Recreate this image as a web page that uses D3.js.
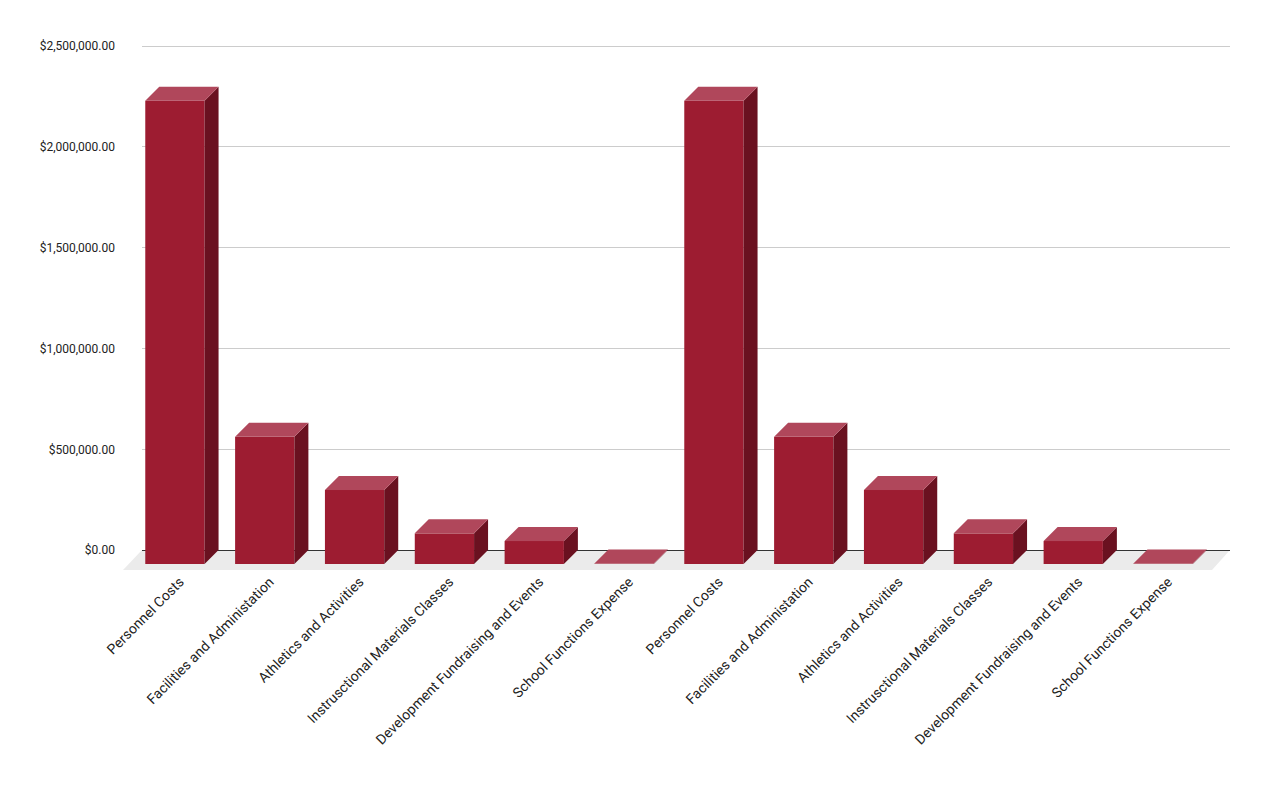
<!DOCTYPE html>
<html>
<head>
<meta charset="utf-8">
<script src="https://cdn.jsdelivr.net/npm/d3@7"></script>
<style>
  body { margin: 0; background: #fff; }
  text { font-family: Roboto, "Liberation Sans", sans-serif; }
</style>
</head>
<body>
<svg id="chart" width="1270" height="785"></svg>
<script>
// data
const categories = [
  "Personnel Costs", "Facilities and Administation", "Athletics and Activities",
  "Instrusctional Materials Classes", "Development Fundraising and Events", "School Functions Expense",
  "Personnel Costs", "Facilities and Administation", "Athletics and Activities",
  "Instrusctional Materials Classes", "Development Fundraising and Events", "School Functions Expense"
];
const amounts = [2298000, 631000, 367000, 152000, 114000, 2000,
                 2298000, 631000, 367000, 152000, 114000, 2000];
const yTicks = [0, 500000, 1000000, 1500000, 2000000, 2500000];

const svg = d3.select("#chart");
const depth = 14;          // 3d offset of the bars
const floorDepth = 20;     // 3d offset of the floor
const plot = { left: 142, right: 1230, top: 46, bottom: 550 };

let y = d3.scaleLinear().domain([0, 2500000]).range([plot.bottom, plot.top]);

// front plane x positions
let x = d3.scaleBand()
    .domain(d3.range(categories.length))
    .range([130, 1208])
    .paddingInner(0.34)
    .paddingOuter(0.17);

// floor
svg.append("polygon")
    .attr("points", [
        [plot.left, plot.bottom], [plot.right, plot.bottom],
        [plot.right - floorDepth + 2, plot.bottom + floorDepth],
        [plot.left - floorDepth + 1, plot.bottom + floorDepth]
    ].map(p => p.join(",")).join(" "))
    .attr("fill", "#ebebeb");

// gridlines
svg.append("g").selectAll("line")
    .data(yTicks)
    .join("line")
    .attr("x1", plot.left).attr("x2", plot.right)
    .attr("y1", d => y(d)).attr("y2", d => y(d))
    .attr("stroke", d => d == 0 ? "#333" : "#ccc")
    .attr("stroke-width", 1)
    .attr("shape-rendering", "crispEdges");

// y axis labels
let yAxis = d3.axisLeft(y)
    .tickValues(yTicks)
    .tickFormat(d3.format("$,.2f"))
    .tickSize(0)
    .tickPadding(27);

let axisG = svg.append("g")
    .attr("transform", `translate(${plot.left},0)`)
    .call(yAxis);
axisG.select(".domain").remove();
axisG.selectAll("text")
    .attr("font-size", 12)
    .attr("fill", "#222")
    .style("font-family", "Roboto, sans-serif");

// bars
let bars = svg.append("g").selectAll("g")
    .data(amounts)
    .join("g");

bars.each(function(d, i) {
    let g = d3.select(this);
    let x0 = x(i), w = x.bandwidth();
    let yb = plot.bottom + depth;
    let yt = y(d) + depth;
    // front
    g.append("rect")
        .attr("x", x0).attr("y", yt)
        .attr("width", w).attr("height", yb - yt)
        .attr("fill", "#9d1c31");
    // side
    g.append("polygon")
        .attr("points", [[x0 + w, yt], [x0 + w + depth, yt - depth],
                         [x0 + w + depth, yb - depth], [x0 + w, yb]].map(p => p.join(",")).join(" "))
        .attr("fill", "#6a1120");
    // top
    g.append("polygon")
        .attr("points", [[x0, yt], [x0 + w, yt], [x0 + w + depth, yt - depth],
                         [x0 + depth, yt - depth]].map(p => p.join(",")).join(" "))
        .attr("fill", "#b0475b");
});

// category labels
svg.append("g").selectAll("text")
    .data(categories)
    .join("text")
    .attr("transform", (d, i) => `translate(${x(i) + x.bandwidth() / 2 + 10},${plot.bottom + 33}) rotate(-45)`)
    .attr("text-anchor", "end")
    .attr("font-size", 14)
    .attr("fill", "#222")
    .text(d => d);
</script>
</body>
</html>
